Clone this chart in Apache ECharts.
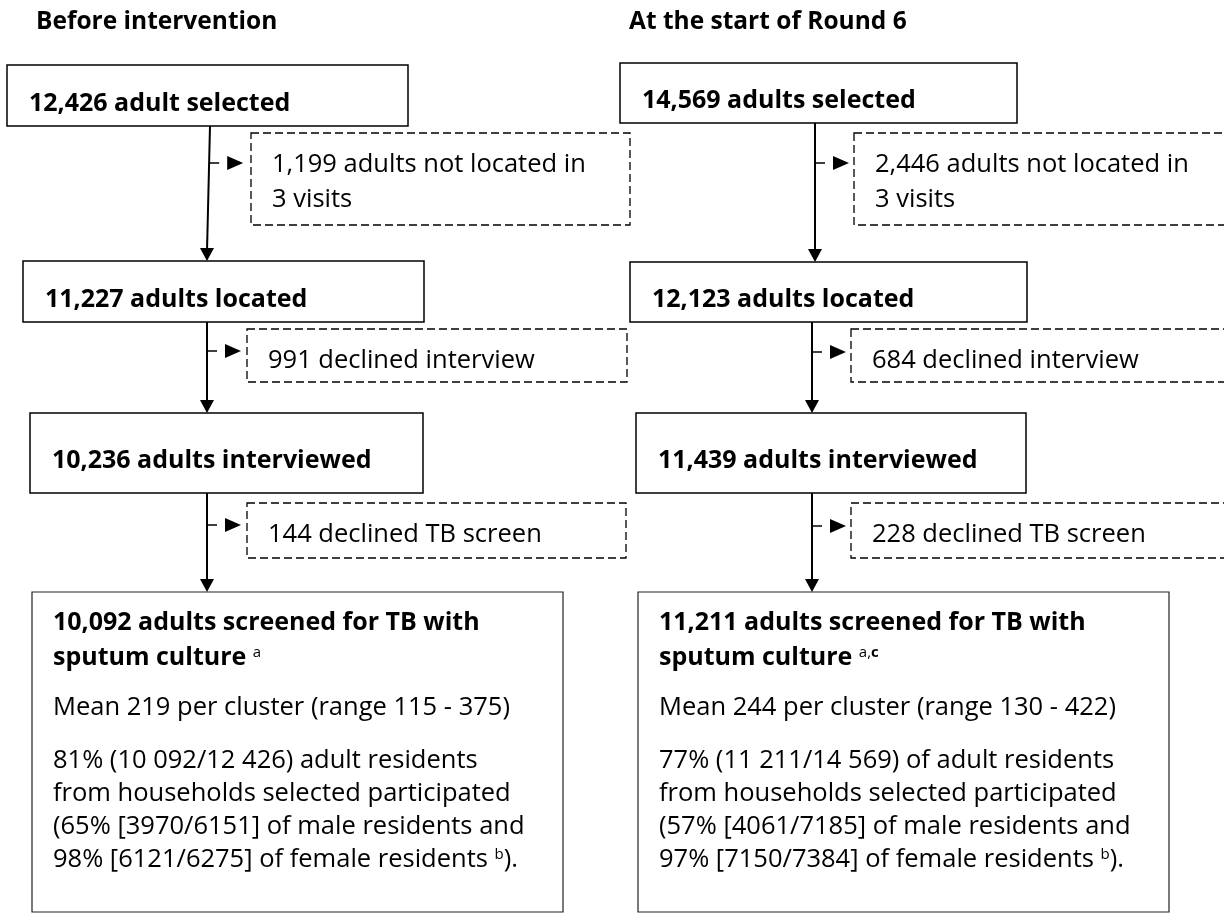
<!DOCTYPE html>
<html lang="en">
<head>
<meta charset="UTF-8">
<title>Adults selected and screened for TB</title>
<script src="https://cdn.jsdelivr.net/npm/echarts@6/dist/echarts.min.js"></script>
<style>
  html, body { margin: 0; padding: 0; background: #fff; }
  #flow-chart { width: 1224px; height: 913px; }
</style>
</head>
<body>
<div id="flow-chart"></div>
<script>
// ---- content ----
const columnTitles = ['Before intervention', 'At the start of Round 6'];

const stepsBefore = ['12,426 adult selected', '11,227 adults located', '10,236 adults interviewed'];
const stepsRound6 = ['14,569 adults selected', '12,123 adults located', '11,439 adults interviewed'];

const lostBefore = [['1,199 adults not located in', '3 visits'], ['991 declined interview'], ['144 declined TB screen']];
const lostRound6 = [['2,446 adults not located in', '3 visits'], ['684 declined interview'], ['228 declined TB screen']];

const screenedBefore = ['10,092 adults screened for TB with', 'sputum culture {sa|a}'];
const screenedRound6 = ['11,211 adults screened for TB with', 'sputum culture {sa|a,}{sb|c}'];

const clusterBefore = 'Mean 219 per cluster (range 115 - 375)';
const clusterRound6 = 'Mean 244 per cluster (range 130 - 422)';

const participationBefore = [
    '81% (10 092/12 426) adult residents',
    'from households selected participated',
    '(65% [3970/6151] of male residents and',
    '98% [6121/6275] of female residents {sa|b}).'
];
const participationRound6 = [
    '77% (11 211/14 569) of adult residents',
    'from households selected participated',
    '(57% [4061/7185] of male residents and',
    '97% [7150/7384] of female residents {sa|b}).'
];

// ---- layout (axis units; the hidden axes span the whole canvas) ----
const titlePos = [[36, 29], [629, 29]];
const stepBoxBefore = [[7, 65, 408, 126], [23, 261, 424, 322], [30, 413, 423, 493]];
const stepBoxRound6 = [[620, 63, 1017, 123], [630, 262, 1027, 322], [636, 413, 1026, 493]];
const lostBoxBefore = [[251, 133, 630, 225], [247, 329, 627, 382], [247, 503, 626, 558]];
const lostBoxRound6 = [[854, 133, 1240, 225], [851, 329, 1240, 382], [851, 503, 1240, 558]];
const finalBox = [[32, 592, 563, 912], [638, 592, 1169, 912]];
const flowX = [[[210, 207], [207, 207], [207, 207]], [[815, 815], [812, 812], [812, 812]]];
const branchY = [[163, 351, 525], [163, 352, 526]];
// baselines inside the last box, measured from its top edge
const finalLineOffsets = [38, 73, 123, 176, 209, 242, 275];

const steps = [stepsBefore, stepsRound6];
const stepBoxes = [stepBoxBefore, stepBoxRound6];
const lost = [lostBefore, lostRound6];
const lostBoxes = [lostBoxBefore, lostBoxRound6];
const screened = [screenedBefore, screenedRound6];
const cluster = [clusterBefore, clusterRound6];
const participation = [participationBefore, participationRound6];

const FONT = '"Open Sans"';
const TITLE = 24.5;
const BOLD = 25;
const REG = 25.5;
const INK = '#000';

const supRich = {
    sa: { fontFamily: FONT, fontSize: 15, fontWeight: 'normal', verticalAlign: 'top', fill: INK },
    sb: { fontFamily: FONT, fontSize: 15, fontWeight: 'bold', verticalAlign: 'top', fill: INK }
};

const chart = echarts.init(document.getElementById('flow-chart'));

function toRect(api, b) {
    const a = api.coord([b[0], b[1]]);
    const c = api.coord([b[2], b[3]]);
    return { x: a[0], y: Math.min(a[1], c[1]), width: c[0] - a[0], height: Math.abs(c[1] - a[1]) };
}

// text placed by its baseline
function label(api, x, baseline, text, size, weight) {
    const p = api.coord([x, baseline]);
    return {
        type: 'text',
        style: {
            x: p[0], y: p[1] - size * 0.28,
            text: text, fill: INK,
            fontFamily: FONT, fontSize: size, fontWeight: weight,
            verticalAlign: 'middle', align: 'left',
            rich: supRich
        }
    };
}

const pairs = (n) => [0, 1].flatMap(c => Array.from({ length: n }, (_, i) => [c, i]));

const option = {
    animation: false,
    grid: { left: 0, right: 0, top: 0, bottom: 0 },
    xAxis: { type: 'value', min: 0, max: 1224, show: false },
    yAxis: { type: 'value', min: 0, max: 913, inverse: true, show: false },
    series: [
        {
            // column titles
            type: 'custom', silent: true, clip: false,
            data: columnTitles.map((t, i) => [i]),
            renderItem: (params, api) => {
                const c = api.value(0);
                return label(api, titlePos[c][0], titlePos[c][1], columnTitles[c], TITLE, 'bold');
            }
        },
        {
            // main steps
            type: 'custom', silent: true, clip: false,
            data: pairs(3),
            renderItem: (params, api) => {
                const c = api.value(0), i = api.value(1);
                const b = stepBoxes[c][i];
                return {
                    type: 'group',
                    children: [
                        { type: 'rect', shape: toRect(api, b), style: { fill: '#fff', stroke: INK, lineWidth: 1.5 } },
                        label(api, b[0] + 22, (b[1] + b[3]) / 2 + 15, steps[c][i], BOLD, 'bold')
                    ]
                };
            }
        },
        {
            // dropped out (dashed boxes)
            type: 'custom', silent: true, clip: false,
            data: pairs(3),
            renderItem: (params, api) => {
                const c = api.value(0), i = api.value(1);
                const b = lostBoxes[c][i];
                const children = [
                    { type: 'rect', shape: toRect(api, b), style: { fill: '#fff', stroke: INK, lineWidth: 1.3, lineDash: [8, 4] } }
                ];
                lost[c][i].forEach((line, k) => {
                    children.push(label(api, b[0] + 21, b[1] + 39 + k * 35, line, REG, 'normal'));
                });
                return { type: 'group', children: children };
            }
        },
        {
            // arrows
            type: 'custom', silent: true, clip: false,
            data: pairs(3),
            renderItem: (params, api) => {
                const c = api.value(0), i = api.value(1);
                const from = stepBoxes[c][i];
                const to = i < 2 ? stepBoxes[c][i + 1] : finalBox[c];
                const [xa, xb] = flowX[c][i];
                const top = api.coord([xa, from[3]]);
                const tip = api.coord([xb, to[1]]);
                const by = branchY[c][i];
                const t = (by - from[3]) / (to[1] - from[3]);
                const bp = api.coord([xa + (xb - xa) * t, by]);
                return {
                    type: 'group',
                    children: [
                        { type: 'line', shape: { x1: top[0], y1: top[1], x2: tip[0], y2: tip[1] - 10 }, style: { stroke: INK, lineWidth: 2 } },
                        { type: 'polygon', shape: { points: [[tip[0], tip[1]], [tip[0] - 7, tip[1] - 13], [tip[0] + 7, tip[1] - 13]] }, style: { fill: INK } },
                        { type: 'line', shape: { x1: bp[0], y1: bp[1], x2: bp[0] + 10, y2: bp[1] }, style: { stroke: INK, lineWidth: 1.5 } },
                        { type: 'polygon', shape: { points: [[bp[0] + 34, bp[1]], [bp[0] + 18, bp[1] - 7], [bp[0] + 18, bp[1] + 7]] }, style: { fill: INK } }
                    ]
                };
            }
        },
        {
            // screened with sputum culture
            type: 'custom', silent: true, clip: false,
            data: columnTitles.map((t, i) => [i]),
            renderItem: (params, api) => {
                const c = api.value(0);
                const b = finalBox[c];
                const x = b[0] + 21;
                const lines = [
                    [screened[c][0], BOLD, 'bold'],
                    [screened[c][1], BOLD, 'bold'],
                    [cluster[c], REG, 'normal']
                ].concat(participation[c].map(l => [l, REG, 'normal']));
                const children = [
                    { type: 'rect', shape: toRect(api, b), style: { fill: '#fff', stroke: '#222', lineWidth: 1.2 } }
                ];
                lines.forEach((l, k) => {
                    children.push(label(api, x, b[1] + finalLineOffsets[k], l[0], l[1], l[2]));
                });
                return { type: 'group', children: children };
            }
        }
    ]
};

chart.setOption(option);
</script>
</body>
</html>
